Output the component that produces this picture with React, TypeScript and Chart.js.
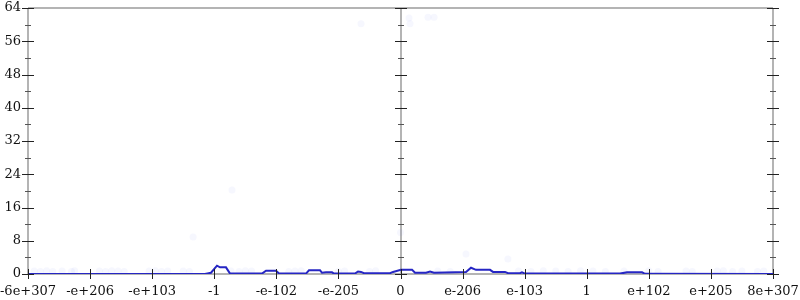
import React, { useEffect, useRef } from "react";
import { Chart, registerables } from "chart.js";
Chart.register(...registerables);

const xTickLabels = ["-6e+307", "-e+206", "-e+103", "-1", "-e-102", "-e-205", "0", "e-206", "e-103", "1", "e+102", "e+205", "8e+307"];
const yTicks = [0, 8, 16, 24, 32, 40, 48, 56, 64];

const lineX = [0, 2.851, 2.948, 3.044, 3.093, 3.189, 3.254, 3.769, 3.834, 3.995, 4.043, 4.478, 4.526, 4.704, 4.736, 4.8, 4.897, 4.929, 5.267, 5.316, 5.364, 5.412, 5.831, 5.88, 6.008, 6.186, 6.234, 6.411, 6.476, 6.54, 7.055, 7.136, 7.216, 7.281, 7.442, 7.49, 7.684, 7.732, 7.925, 7.957, 8.006, 9.536, 9.649, 9.891, 9.939, 12];
const lineY = [0, 0, 0.3, 2.0, 1.6, 1.6, 0.1, 0.1, 0.8, 0.8, 0.1, 0.1, 0.9, 0.9, 0.3, 0.4, 0.4, 0.1, 0.1, 0.6, 0.5, 0.2, 0.2, 0.5, 1.0, 1.0, 0.3, 0.3, 0.6, 0.3, 0.5, 1.5, 1.0, 1.0, 1.0, 0.5, 0.5, 0.2, 0.2, 0.4, 0.1, 0.1, 0.4, 0.4, 0.05, 0];

const dotX = [0.1, 0.2, 0.3, 0.4, 0.55, 0.7, 0.75, 1.15, 1.25, 1.35, 1.45, 1.55, 1.95, 2.05, 2.15, 2.25, 2.5, 2.6, 2.66, 3.27, 3.286, 3.4, 3.5, 3.6, 4.2, 4.3, 4.4, 5.0, 5.1, 5.364, 5.5, 5.6, 6.137, 6.153, 6.0, 6.443, 6.54, 6.6, 6.8, 7.055, 7.73, 7.9, 8.1, 8.3, 8.5, 8.7, 8.9, 9.1, 9.3, 9.6, 10.0, 10.15, 10.6, 10.7, 11.1, 11.2, 11.35, 11.5, 11.75, 11.85];
const dotY = [0.7, 0.6, 0.8, 0.6, 0.7, 0.6, 0.8, 0.7, 0.6, 0.8, 0.7, 0.6, 0.7, 0.8, 0.6, 0.7, 0.7, 0.6, 8.9, 0.7, 20.2, 0.6, 0.8, 0.7, 0.6, 0.7, 0.8, 0.6, 0.7, 60.2, 0.6, 0.8, 61.6, 60.2, 10.0, 61.8, 61.8, 0.7, 0.6, 4.8, 3.6, 0.7, 0.6, 0.8, 0.7, 0.6, 0.8, 0.7, 0.6, 0.7, 0.8, 0.6, 0.7, 0.6, 0.7, 0.8, 0.6, 0.7, 0.6, 0.7];

const axesPlugin = {
  id: "customAxes",
  beforeDatasetsDraw(chart: any) {
    const { ctx, chartArea, scales } = chart;
    const xs = scales.x;
    ctx.save();
    ctx.strokeStyle = "#b4b4b4";
    ctx.lineWidth = 2;
    ctx.beginPath();
    ctx.moveTo(chartArea.left, chartArea.top);
    ctx.lineTo(chartArea.right, chartArea.top);
    ctx.moveTo(chartArea.left, chartArea.bottom);
    ctx.lineTo(chartArea.right, chartArea.bottom);
    for (const v of [0, 6, 12]) {
      const px = Math.round(xs.getPixelForValue(v));
      ctx.moveTo(px, chartArea.top);
      ctx.lineTo(px, chartArea.bottom);
    }
    ctx.stroke();
    ctx.restore();
  },
  afterDatasetsDraw(chart: any) {
    const { ctx, chartArea, scales } = chart;
    const xs = scales.x, ys = scales.y;
    ctx.save();
    ctx.lineWidth = 1;
    for (const v of [0, 6, 12]) {
      const px = Math.round(xs.getPixelForValue(v));
      for (let t = 0; t <= 64; t += 4) {
        const py = Math.round(ys.getPixelForValue(t)) + 0.5;
        const major = t % 8 === 0;
        const len = major ? 6 : 3;
        ctx.strokeStyle = major ? "#222" : "#555";
        ctx.beginPath();
        ctx.moveTo(px - len, py);
        ctx.lineTo(px + len, py);
        ctx.stroke();
      }
    }
    ctx.strokeStyle = "#222";
    xTickLabels.forEach((_, i) => {
      const px = Math.round(xs.getPixelForValue(i)) + 0.5;
      ctx.beginPath();
      ctx.moveTo(px, chartArea.bottom - 5);
      ctx.lineTo(px, chartArea.bottom + 5);
      ctx.stroke();
    });
    ctx.fillStyle = "#111";
    ctx.font = "13px 'DejaVu Serif'";
    ctx.textAlign = "right";
    ctx.textBaseline = "middle";
    for (const t of yTicks) {
      ctx.fillText(String(t), chartArea.left - 7, ys.getPixelForValue(t));
    }
    ctx.textAlign = "center";
    ctx.textBaseline = "top";
    xTickLabels.forEach((lab, i) => {
      ctx.fillText(lab, xs.getPixelForValue(i), chartArea.bottom + 11);
    });
    ctx.restore();
  },
};

export default function App() {
  const ref = useRef<HTMLCanvasElement>(null);
  useEffect(() => {
    if (!ref.current) return;
    const chart = new Chart(ref.current, {
      type: "scatter",
      data: {
        datasets: [
          {
            type: "line",
            data: lineX.map((x, i) => ({ x, y: lineY[i] })),
            borderColor: "#2626c4",
            borderWidth: 2,
            pointRadius: 0,
            fill: false,
            tension: 0,
            order: 1,
          } as any,
          {
            type: "scatter",
            data: dotX.map((x, i) => ({ x, y: dotY[i] })),
            backgroundColor: "rgba(100,120,235,0.06)",
            borderWidth: 0,
            pointRadius: 3.5,
            order: 2,
          } as any,
        ],
      },
      options: {
        animation: false,
        responsive: false,
        maintainAspectRatio: false,
        layout: { padding: { left: 28, right: 27, top: 8, bottom: 26 } },
        plugins: { legend: { display: false }, tooltip: { enabled: false } },
        scales: {
          x: { type: "linear", min: 0, max: 12, display: false },
          y: { type: "linear", min: 0, max: 64, display: false },
        },
      },
      plugins: [axesPlugin],
    });
    return () => chart.destroy();
  }, []);
  return (
    <div style={{ position: "fixed", left: 0, top: 0, width: 800, height: 300, background: "#fff" }}>
      <canvas ref={ref} width={800} height={300} style={{ width: 800, height: 300 }} />
    </div>
  );
}
